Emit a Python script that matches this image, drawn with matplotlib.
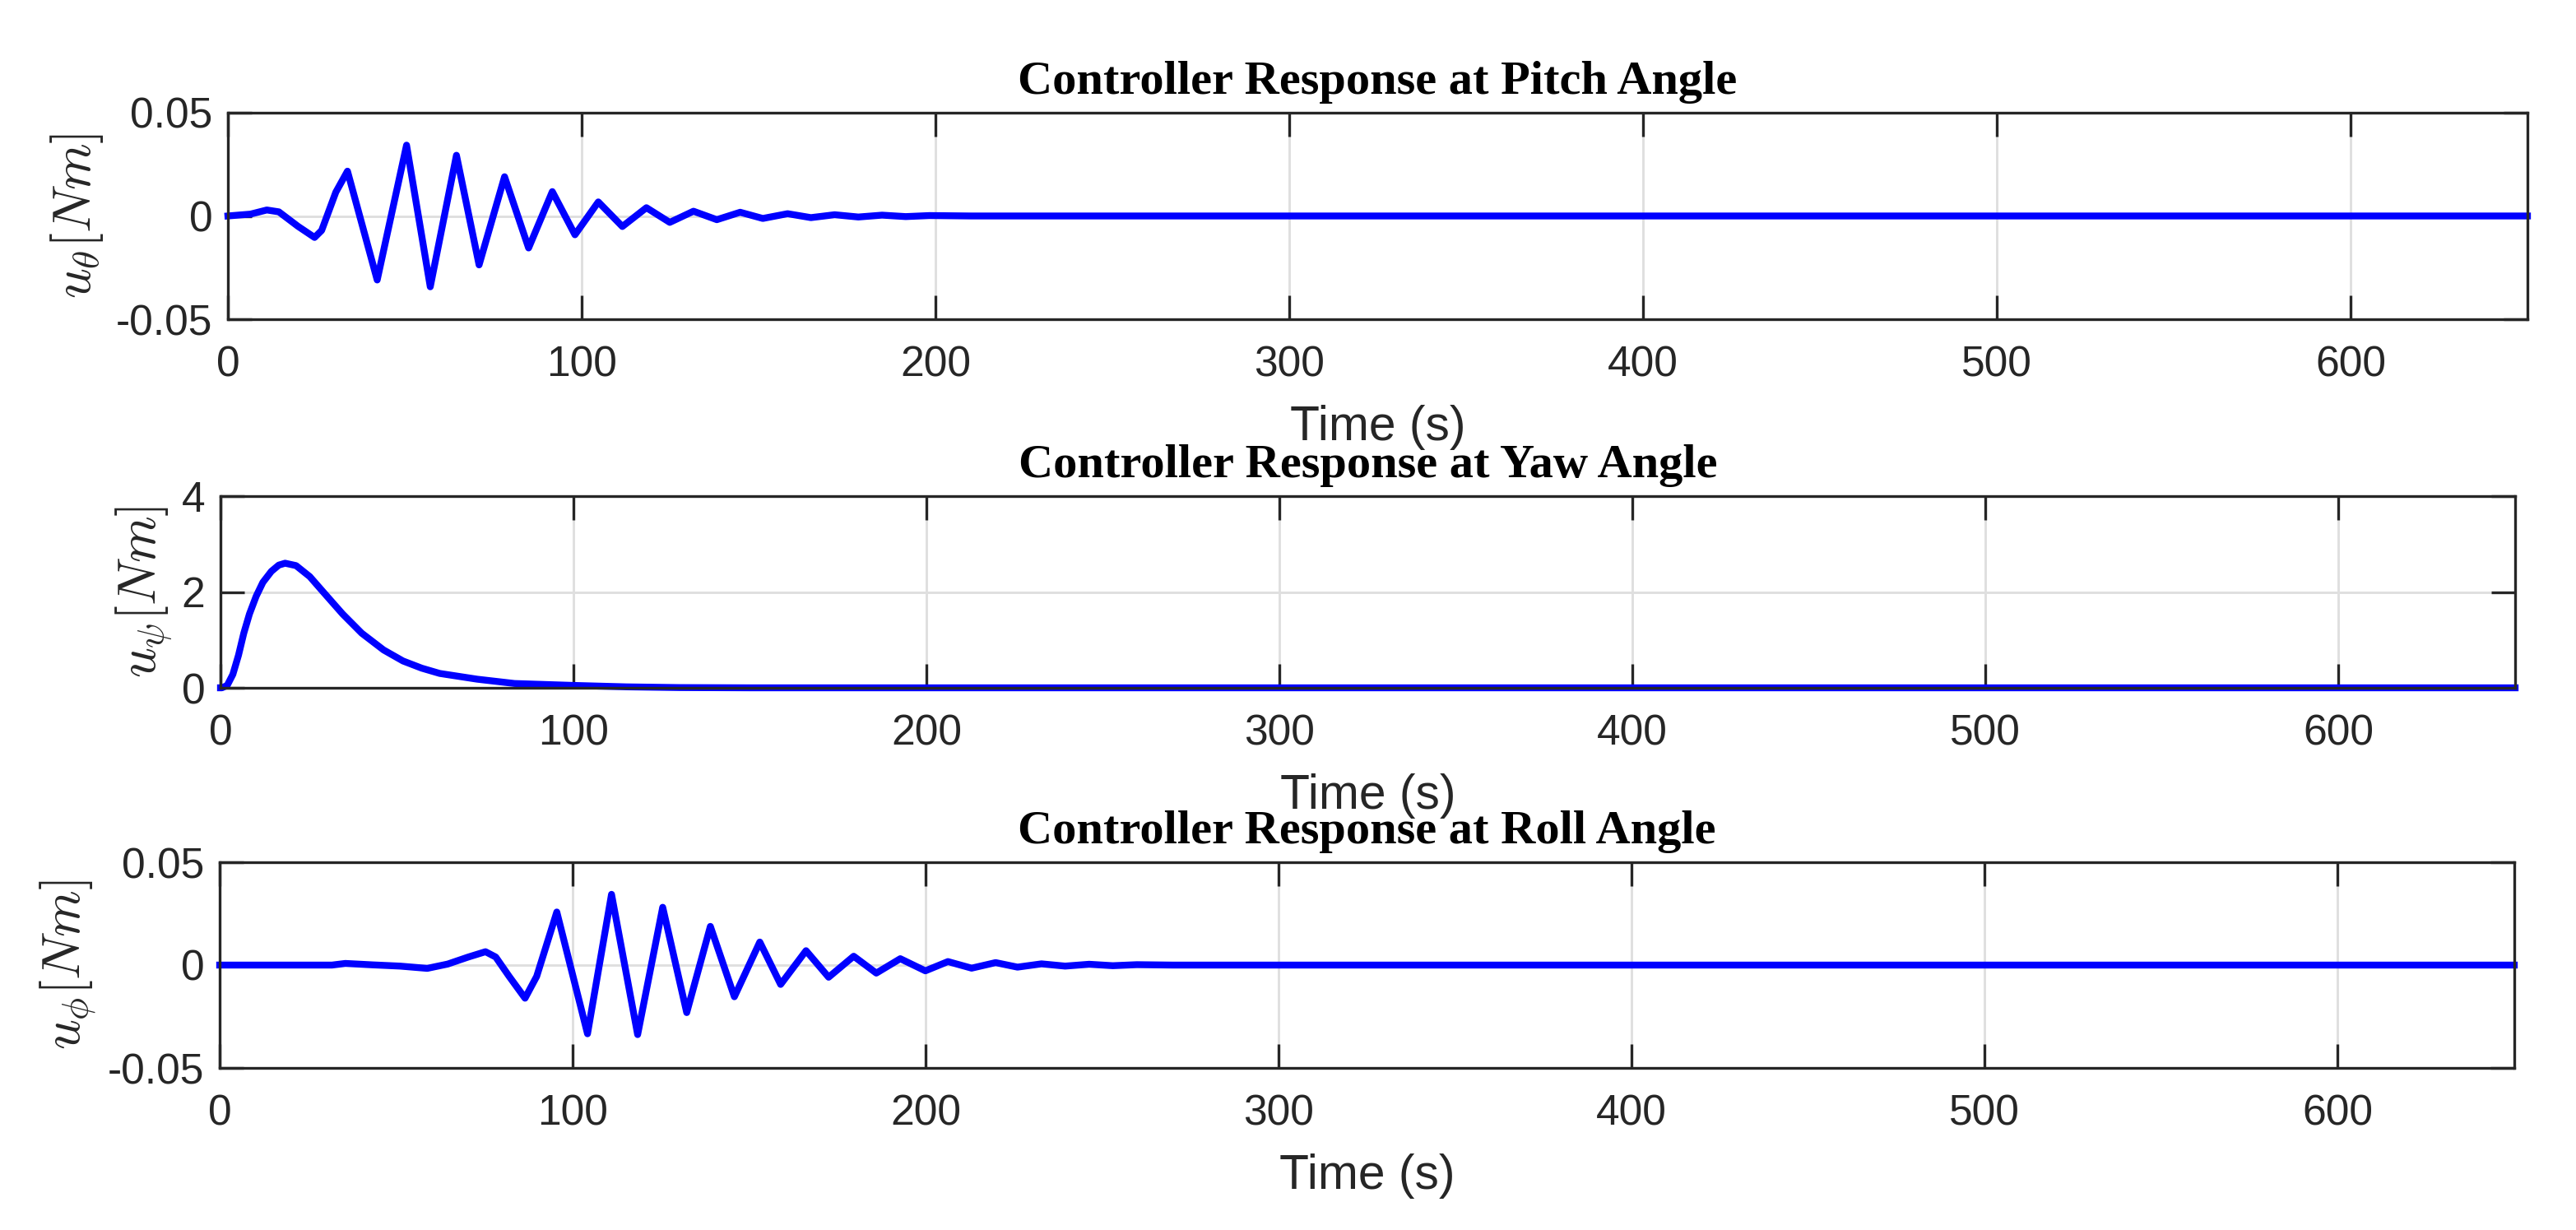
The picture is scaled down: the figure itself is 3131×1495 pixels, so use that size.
import matplotlib

matplotlib.use("Agg")
import matplotlib.pyplot as plt

# values
pitch_t = [0, 6.4, 11, 14.4, 19.8, 24.5, 26.5, 30.5, 33.8, 42.2, 50.5, 57.2,
           64.6, 71, 78.2, 85, 91.7, 98.1, 104.7, 111.5, 118.3, 124.9, 131.6,
           138.2, 144.8, 151.2, 158.2, 164.8, 171.5, 178.2, 184.9, 191.6, 198.3,
           210, 650]
pitch_u = [0, 0.0009, 0.0029, 0.002, -0.005, -0.0104, -0.007, 0.0115, 0.0217,
           -0.031, 0.0343, -0.0343, 0.0294, -0.0237, 0.019, -0.0155, 0.0118,
           -0.0091, 0.0068, -0.0051, 0.004, -0.0031, 0.0023, -0.0018, 0.0018,
           -0.0012, 0.0011, -0.0008, 0.0006, -0.0005, 0.0004, -0.0003, 0.0002,
           0, 0]

yaw_t = [0, 0.4, 1.9, 3.5, 5.1, 6.6, 8.2, 10.1, 12.0, 14.4, 16.5, 18.3, 21.4,
         25.3, 29.1, 34.6, 40.0, 46.2, 51.7, 57, 62.1, 72.7, 83.3, 100, 115,
         130, 150, 650]
yaw_u = [0, 0, 0.05, 0.28, 0.68, 1.14, 1.54, 1.91, 2.2, 2.43, 2.56, 2.6, 2.55,
         2.32, 2.0, 1.54, 1.14, 0.79, 0.56, 0.41, 0.3, 0.18, 0.09, 0.05, 0.02,
         0.005, 0, 0]

roll_t = [0, 31.8, 35.6, 43.4, 51.1, 58.8, 64.6, 70.4, 75.3, 78.2, 82, 86.5,
          89.8, 95.5, 104.2, 111, 118.4, 125.5, 132.3, 139, 145.8, 153, 158.9,
          166.1, 172.5, 179.6, 186, 192.8, 199.9, 206.3, 213, 219.8, 226, 232.8,
          239.5, 246.3, 253, 259.8, 270, 650]
roll_u = [0, 0, 0.0008, 0.0001, -0.0005, -0.0016, 0.0005, 0.0039, 0.0065,
          0.0039, -0.0055, -0.0161, -0.0055, 0.0258, -0.0334, 0.0344, -0.0338,
          0.0281, -0.0231, 0.0188, -0.0154, 0.0112, -0.0094, 0.007, -0.0059,
          0.0043, -0.0039, 0.0031, -0.0028, 0.0017, -0.0015, 0.0012, -0.001,
          0.0006, -0.0005, 0.0004, -0.0003, 0.0002, 0, 0]

titles = ["Controller Response at Pitch Angle",
          "Controller Response at Yaw Angle",
          "Controller Response at Roll Angle"]
ylabels = [r"$u_{\theta}[Nm]$", r"$u_{\psi}[Nm]$", r"$u_{\phi}[Nm]$"]
xticks = [0, 100, 200, 300, 400, 500, 600]
small_yticks = [-0.05, 0, 0.05]
small_yticklabels = ["-0.05", "0", "0.05"]
yaw_yticks = [0, 2, 4]

INK = "#262626"
plt.rcParams["font.family"] = ["Liberation Sans", "DejaVu Sans"]
plt.rcParams["mathtext.fontset"] = "cm"

fig = plt.figure(figsize=(3131 / 300, 1495 / 300), dpi=300)

rects = [
    [277 / 3131, 1 - 388 / 1495, 2795 / 3131, 251 / 1495],
    [268 / 3131, 1 - 836 / 1495, 2789 / 3131, 233 / 1495],
    [267 / 3131, 1 - 1298 / 1495, 2789 / 3131, 250 / 1495],
]
series = [(pitch_t, pitch_u), (yaw_t, yaw_u), (roll_t, roll_u)]
label_x = [-0.0533, -0.0197, -0.0527]

for i, rect in enumerate(rects):
    ax = fig.add_axes(rect)
    t, u = series[i]
    ax.plot(t, u, color=(0, 0, 1), linewidth=2.0, zorder=3, clip_on=False,
            solid_joinstyle="round")
    ax.set_xlim(0, 650)
    ax.set_xticks(xticks)
    if i == 1:
        ax.set_ylim(0, 4)
        ax.set_yticks(yaw_yticks)
    else:
        ax.set_ylim(-0.05, 0.05)
        ax.set_yticks(small_yticks)
        ax.set_yticklabels(small_yticklabels)
    ax.grid(True, color="#dfdfdf", linewidth=0.7, zorder=0)
    ax.set_axisbelow(True)
    for side in ax.spines.values():
        side.set_color(INK)
        side.set_linewidth(0.8)
        side.set_zorder(4)
    ax.tick_params(direction="in", length=7, width=0.8, colors=INK,
                   labelsize=12.4, top=True, right=True, pad=7.6)
    ax.tick_params(axis="y", pad=4.5)
    ax.set_xlabel("Time (s)", fontsize=14.1, color=INK, labelpad=5.5)
    ax.set_ylabel(ylabels[i], fontsize=15.5, color=INK)
    ax.yaxis.set_label_coords(label_x[i], 0.5)
    ax.set_title(titles[i], fontsize=14.0, fontweight="bold",
                 family="Liberation Serif", color="black", pad=5.5)

fig.savefig("out.png", dpi=300)
